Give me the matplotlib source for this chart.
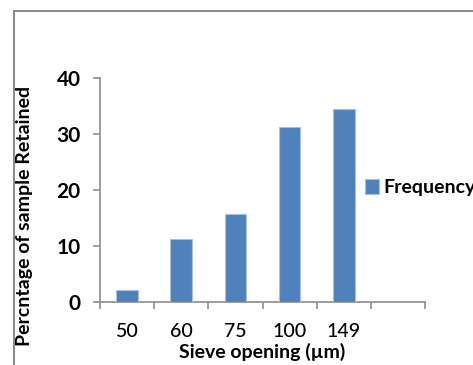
import numpy as np
import matplotlib.pyplot as plt
from matplotlib.patches import Rectangle

# sieve openings and percentage retained
sieve = ['50', '60', '75', '100', '149']
retained = [2.1, 11.2, 15.7, 31.3, 34.5]
n_slots = 6  # Excel left one empty category at the end

plt.rcParams['font.family'] = ['Lato', 'DejaVu Sans']

fig = plt.figure(figsize=(4.73, 3.65), dpi=100)
ax = fig.add_axes([100 / 473, 1 - 302 / 365, 325 / 473, 224 / 365])

# chart frame (cut off at the right and bottom like the original)
fig.patches.append(Rectangle((14 / 473, -0.2), 1.2, 1.2 - 11 / 365,
                             transform=fig.transFigure, fill=False,
                             edgecolor='#8c8c8c', linewidth=1.5))

x = np.arange(len(sieve))
ax.bar(x, retained, width=0.4, color='#4f81bd', edgecolor='#a7c0e0',
       linewidth=0.8, label='Frequency', zorder=3)

ax.set_xlim(-0.5, n_slots - 0.5)
ax.set_ylim(0, 40)
ax.set_yticks([0, 10, 20, 30, 40])
ax.set_xticks(x)
ax.set_xticklabels(sieve)
ax.set_xticks(np.arange(n_slots + 1) - 0.5, minor=True)

for s in ['top', 'right']:
    ax.spines[s].set_visible(False)
for s in ['left', 'bottom']:
    ax.spines[s].set_color('#8c8c8c')
    ax.spines[s].set_linewidth(1.2)

ax.tick_params(axis='x', which='major', length=0, pad=15, labelsize=14)
ax.tick_params(axis='x', which='minor', length=5, color='#8c8c8c', width=1.2)
ax.tick_params(axis='y', length=5, color='#8c8c8c', width=1.2, pad=9,
               labelsize=15)
for lab in ax.get_xticklabels():
    lab.set_fontweight('medium')
for lab in ax.get_yticklabels():
    lab.set_fontweight('bold')

ax.set_xlabel('Sieve opening (µm)', fontsize=14, fontweight='bold')
ax.xaxis.set_label_coords(0.5, -0.183)
ax.set_ylabel('Percntage of sample Retained', fontsize=14, fontweight='bold')
ax.yaxis.set_label_coords(-0.205, 0.384)

ax.legend(loc='center left', bbox_to_anchor=(0.76, 0.51), frameon=False,
          handlelength=0.75, handleheight=0.75, handletextpad=0.2,
          prop={'weight': 'bold', 'size': 14})

fig.savefig('out.png', dpi=100)
